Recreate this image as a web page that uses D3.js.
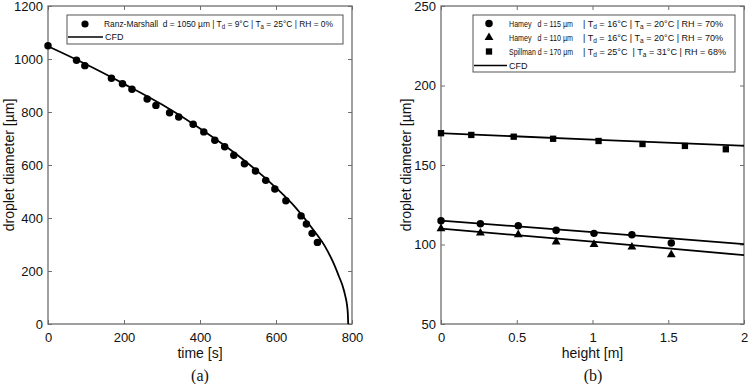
<!DOCTYPE html>
<meta charset="utf-8">
<style>
body { margin: 0; background: #fff; }
svg { display: block; font-family: "Liberation Sans", Arial, sans-serif; }
.frame { fill: none; stroke: #6e6e6e; stroke-width: 1.3; }
.tick line { stroke: #6e6e6e; }
.tick text { font-size: 13px; fill: #111; }
.cfd { fill: none; stroke: #000; stroke-width: 1.8; }
.legend-box { fill: #fff; stroke: #555; stroke-width: 1; }
.leg { font-size: 9px; fill: #111; }
.title { font-size: 14px; fill: #111; }
.panel { font-family: "Liberation Serif", "Times New Roman", serif; font-size: 16px; fill: #111; }
</style>
<svg width="749" height="384"></svg>
<script src="https://d3js.org/d3.v7.min.js"></script>
<script>

// ---- panel (a) data ----
var rmTime = [0, 75, 97, 167, 196, 221, 261, 284, 320, 344, 382, 410, 439, 465, 489, 517, 546, 573, 597, 626, 666, 680, 695, 709];
var rmDiam = [1050, 995, 975, 927, 907, 886, 849, 825, 797, 781, 754, 725, 693, 669, 637, 605, 577, 542, 509, 465, 408, 377, 342, 308];
var cfdTimeA = [0, 100, 200, 300, 400, 500, 600, 650, 700, 730, 750, 765, 775, 782, 787, 789, 790];
var cfdDiamA = [1048, 980, 906, 828, 738, 636, 514, 442, 352, 290, 234, 182, 145, 108, 70, 40, 0];

// ---- panel (b) data ----
var hHeight = [0, 0.26, 0.51, 0.76, 1.01, 1.26, 1.52];
var hamey115 = [115, 113.1, 111.8, 108.9, 107, 106.2, 100.9];
var hamey110 = [110, 107.2, 106.2, 101.6, 100.1, 98.4, 93.6];
var spHeight = [0, 0.2, 0.48, 0.74, 1.04, 1.33, 1.61, 1.88];
var spill170 = [170, 168.9, 167.8, 166.5, 165.1, 163.2, 162, 159.9];
var cfdH = [0, 1, 2];
var cfd115 = [115, 107.8, 100.2];
var cfd110 = [110, 101.8, 93.3];
var cfd170 = [170, 166, 162.1];

var svg = d3.select("svg");

function panel(opt) {
  var x = d3.scaleLinear().domain(opt.xd).range([opt.x0, opt.x1]);
  var y = d3.scaleLinear().domain(opt.yd).range([opt.y0, opt.y1]);
  var g = svg.append("g");

  g.append("g").attr("transform", "translate(0," + opt.y0 + ")")
    .call(d3.axisBottom(x).tickValues(opt.xt).tickSizeInner(-4).tickSizeOuter(0).tickPadding(9).tickFormat(d3.format("")))
    .call(function(a) { a.select(".domain").remove(); a.selectAll("text").attr("font-family", null).attr("font-size", null); });
  g.append("g").attr("transform", "translate(" + opt.x0 + ",0)")
    .call(d3.axisLeft(y).tickValues(opt.yt).tickSizeInner(-4).tickSizeOuter(0).tickPadding(5).tickFormat(d3.format("")))
    .call(function(a) { a.select(".domain").remove(); a.selectAll("text").attr("font-family", null).attr("font-size", null); });
  // mirrored ticks, no labels
  g.append("g").attr("transform", "translate(0," + opt.y1 + ")")
    .call(d3.axisTop(x).tickValues(opt.xt).tickSizeInner(-4).tickSizeOuter(0))
    .call(function(a) { a.select(".domain").remove(); a.selectAll("text").remove(); });
  g.append("g").attr("transform", "translate(" + opt.x1 + ",0)")
    .call(d3.axisRight(y).tickValues(opt.yt).tickSizeInner(-4).tickSizeOuter(0))
    .call(function(a) { a.select(".domain").remove(); a.selectAll("text").remove(); });

  g.append("rect").attr("class", "frame")
    .attr("x", opt.x0).attr("y", opt.y1)
    .attr("width", opt.x1 - opt.x0).attr("height", opt.y0 - opt.y1);

  g.append("text").attr("class", "title")
    .attr("x", (opt.x0 + opt.x1) / 2).attr("y", 358)
    .attr("text-anchor", "middle").text(opt.xlabel);
  g.append("text").attr("class", "title")
    .attr("transform", "translate(" + opt.ylx + "," + ((opt.y0 + opt.y1) / 2) + ") rotate(-90)")
    .attr("text-anchor", "middle").text("droplet diameter [µm]");
  g.append("text").attr("class", "panel")
    .attr("x", opt.px).attr("y", 381)
    .attr("text-anchor", "middle").text(opt.plabel);

  return { g: g, x: x, y: y };
}

var line = function(x, y) {
  return d3.line().x(function(d) { return x(d[0]); }).y(function(d) { return y(d[1]); }).curve(d3.curveMonotoneX);
};

function markers(p, xs, ys, type, size) {
  p.g.append("g").selectAll("path")
    .data(d3.zip(xs, ys))
    .enter().append("path")
    .attr("transform", function(d) { return "translate(" + p.x(d[0]) + "," + p.y(d[1]) + ")"; })
    .attr("d", d3.symbol().type(type).size(size))
    .attr("fill", "#000");
}

// strings are plain text, one-letter arrays are subscripts
function subText(sel, parts) {
  var back = 0;
  parts.forEach(function(s) {
    if (typeof s !== "string") {
      sel.append("tspan").attr("font-size", "6.5px").attr("dy", 2).text(s[0]);
      back = -2;
    } else {
      sel.append("tspan").attr("dy", back || null).text(s);
      back = 0;
    }
  });
}

// ---- panel (a) ----
var A = panel({ xd: [0, 800], yd: [0, 1200], x0: 48, x1: 352, y0: 324, y1: 6,
  xt: [0, 200, 400, 600, 800], yt: [0, 200, 400, 600, 800, 1000, 1200],
  xlabel: "time [s]", ylx: 14, px: 200, plabel: "(a)" });

A.g.append("path").datum(d3.zip(cfdTimeA, cfdDiamA)).attr("class", "cfd").attr("d", line(A.x, A.y));
markers(A, rmTime, rmDiam, d3.symbolCircle, 44);

var legA = A.g.append("g");
legA.append("rect").attr("class", "legend-box").attr("x", 67).attr("y", 15).attr("width", 276).attr("height", 29);
legA.append("circle").attr("cx", 85).attr("cy", 24).attr("r", 3.6).attr("fill", "#000");
legA.append("line").attr("x1", 68).attr("x2", 103).attr("y1", 37).attr("y2", 37).attr("stroke", "#000").attr("stroke-width", 1.5);
var ta = legA.append("text").attr("class", "leg").attr("x", 104).attr("y", 27)
  .attr("textLength", 229).attr("lengthAdjust", "spacingAndGlyphs").attr("xml:space", "preserve");
subText(ta, ["Ranz-Marshall  d = 1050 µm | T", ["d"], " = 9°C | T", ["a"], " = 25°C | RH = 0%"]);
legA.append("text").attr("class", "leg").attr("x", 105).attr("y", 40).text("CFD");

// ---- panel (b) ----
var B = panel({ xd: [0, 2], yd: [50, 250], x0: 441, x1: 744, y0: 324, y1: 6,
  xt: [0, 0.5, 1, 1.5, 2], yt: [50, 100, 150, 200, 250],
  xlabel: "height [m]", ylx: 411, px: 593, plabel: "(b)" });

[cfd115, cfd110, cfd170].forEach(function(c) {
  B.g.append("path").datum(d3.zip(cfdH, c)).attr("class", "cfd").attr("d", line(B.x, B.y));
});
markers(B, hHeight, hamey115, d3.symbolCircle, 44);
markers(B, hHeight, hamey110, d3.symbolTriangle, 34);
markers(B, spHeight, spill170, d3.symbolSquare, 40);

var legB = B.g.append("g");
legB.append("rect").attr("class", "legend-box").attr("x", 473).attr("y", 15).attr("width", 262).attr("height", 57);
var rowY = [23.5, 37.5, 51.5, 65.5];
var syms = [d3.symbolCircle, d3.symbolTriangle, d3.symbolSquare];
var symSize = [44, 34, 40];
syms.forEach(function(s, i) {
  legB.append("path").attr("transform", "translate(489," + rowY[i] + ")")
    .attr("d", d3.symbol().type(s).size(symSize[i])).attr("fill", "#000");
});
legB.append("line").attr("x1", 474).attr("x2", 507).attr("y1", rowY[3]).attr("y2", rowY[3]).attr("stroke", "#000").attr("stroke-width", 1.5);

var col1 = ["Hamey   d = 115 µm", "Hamey   d = 110 µm", "Spillman d = 170 µm"];
var col2 = [
  ["| T", ["d"], " = 16°C | T", ["a"], " = 20°C | RH = 70%"],
  ["| T", ["d"], " = 16°C | T", ["a"], " = 20°C | RH = 70%"],
  ["| T", ["d"], " = 25°C  | T", ["a"], " = 31°C | RH = 68%"]
];
var col2W = [140, 140, 143];
col1.forEach(function(t, i) {
  legB.append("text").attr("class", "leg").attr("x", 509).attr("y", rowY[i] + 3)
    .attr("textLength", 64).attr("lengthAdjust", "spacingAndGlyphs").attr("xml:space", "preserve").text(t);
  var t2 = legB.append("text").attr("class", "leg").attr("x", 583).attr("y", rowY[i] + 3)
    .attr("textLength", col2W[i]).attr("lengthAdjust", "spacingAndGlyphs").attr("xml:space", "preserve");
  subText(t2, col2[i]);
});
legB.append("text").attr("class", "leg").attr("x", 509).attr("y", rowY[3] + 3).text("CFD");

</script>
